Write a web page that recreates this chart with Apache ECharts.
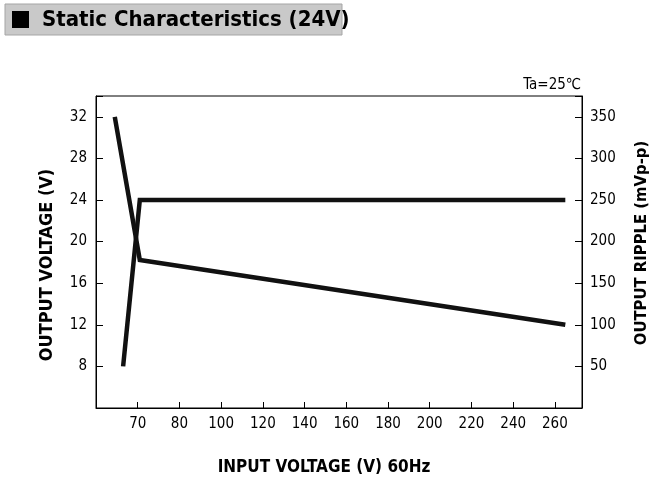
<!DOCTYPE html>
<html>
<head>
<meta charset="utf-8">
<script src="https://cdn.jsdelivr.net/npm/echarts@6/dist/echarts.min.js"></script>
<style>
html,body{margin:0;padding:0;background:#fff;}
#chart{width:663px;height:500px;}
</style>
</head>
<body>
<div id="chart"></div>
<script>
// X axis positions (the reference scale is evenly spaced) and their printed labels
var xTickValues = [60, 80, 100, 120, 140, 160, 180, 200, 220, 240, 260];
var xTickLabels = ['70', '80', '100', '120', '140', '160', '180', '200', '220', '240', '260'];
// Output voltage (left axis, V)
var voltageX = [53, 61, 265];
var voltageY = [8, 24, 24];
// Output ripple (right axis, mVp-p)
var rippleX = [49, 61, 265];
var rippleY = [350, 178, 100];

var FONT = '"Liberation Sans Narrow", "Arial Narrow", "DejaVu Sans Condensed", sans-serif';

function pairs(xs, ys) {
  var out = [];
  for (var i = 0; i < xs.length; i++) out.push([xs[i], ys[i]]);
  return out;
}

var chart = echarts.init(document.getElementById('chart'));
chart.setOption({
  animation: false,
  backgroundColor: '#ffffff',
  textStyle: { fontFamily: FONT },
  graphic: [
    { type: 'rect', shape: { x: 5, y: 4, width: 337, height: 31 },
      style: { fill: '#c9c9c9', stroke: '#a5a5a5', lineWidth: 1 } },
    { type: 'rect', shape: { x: 12, y: 11, width: 17, height: 17 },
      style: { fill: '#000' } },
    { type: 'text', x: 42, y: 20,
      style: { text: 'Static Characteristics (24V)', fill: '#000',
        font: 'bold 22px ' + FONT, verticalAlign: 'middle', align: 'left' } },
    { type: 'text', x: 581, y: 85,
      style: { text: 'Ta=25\u2103', fill: '#000',
        font: '15px ' + FONT, verticalAlign: 'middle', align: 'right' } },
    { type: 'text', x: 324, y: 468,
      style: { text: 'INPUT VOLTAGE (V) 60Hz', fill: '#000',
        font: 'bold 17px ' + FONT, verticalAlign: 'middle', align: 'center' } },
    { type: 'text', x: 47, y: 265, rotation: Math.PI / 2,
      style: { text: 'OUTPUT VOLTAGE (V)', fill: '#000',
        font: 'bold 18px ' + FONT, verticalAlign: 'middle', align: 'center' } },
    { type: 'text', x: 642, y: 243, rotation: Math.PI / 2,
      style: { text: 'OUTPUT RIPPLE (mVp-p)', fill: '#000',
        font: 'bold 16.5px ' + FONT, verticalAlign: 'middle', align: 'center' } }
  ],
  grid: { left: 96, right: 81, top: 96, bottom: 92, show: true, borderColor: '#000', borderWidth: 1 },
  xAxis: {
    type: 'value', min: 40, max: 273, interval: 20,
    axisLine: { show: true, lineStyle: { color: '#000', width: 1 } },
    axisTick: { show: true, inside: true, length: 6, lineStyle: { color: '#000' } },
    axisLabel: { color: '#000', fontSize: 15, margin: 9, fontFamily: FONT,
      formatter: function (v) {
        var i = xTickValues.indexOf(v);
        return i >= 0 ? xTickLabels[i] : '';
      } },
    splitLine: { show: false }
  },
  yAxis: [
    {
      type: 'value', min: 4, max: 34, interval: 4, position: 'left',
      axisLine: { show: true, lineStyle: { color: '#000', width: 1 } },
      axisTick: { show: true, inside: true, length: 7, lineStyle: { color: '#000' } },
      axisLabel: { color: '#000', fontSize: 15, margin: 9, fontFamily: FONT,
        formatter: function (v) { return v >= 8 && v <= 32 ? String(v) : ''; } },
      splitLine: { show: false }
    },
    {
      type: 'value', min: 0, max: 375, interval: 50, position: 'right',
      axisLine: { show: true, lineStyle: { color: '#000', width: 1 } },
      axisTick: { show: true, inside: true, length: 7, lineStyle: { color: '#000' } },
      axisLabel: { color: '#000', fontSize: 15, margin: 8, fontFamily: FONT,
        formatter: function (v) { return v >= 50 && v <= 350 ? String(v) : ''; } },
      splitLine: { show: false }
    }
  ],
  series: [
    { type: 'line', name: 'Output Voltage', yAxisIndex: 0, data: pairs(voltageX, voltageY),
      symbol: 'none', lineStyle: { color: '#111', width: 4.5, cap: 'butt', join: 'miter' } },
    { type: 'line', name: 'Output Ripple', yAxisIndex: 1, data: pairs(rippleX, rippleY),
      symbol: 'none', lineStyle: { color: '#111', width: 4.5, cap: 'butt', join: 'miter' } }
  ]
});
</script>
</body>
</html>
